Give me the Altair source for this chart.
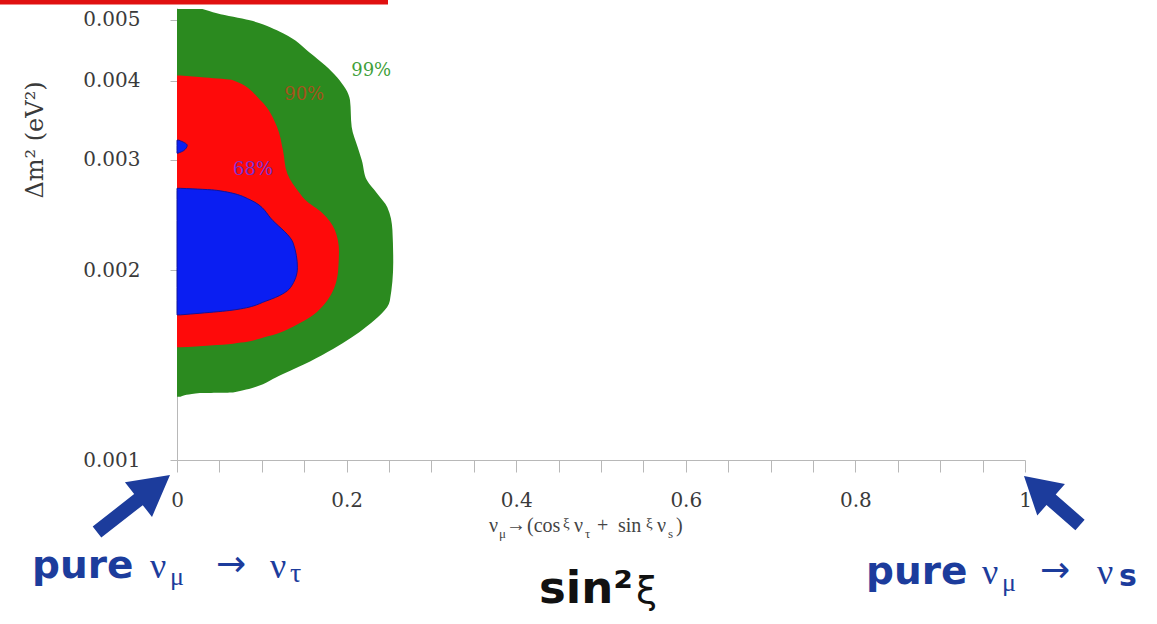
import altair as alt
import pandas as pd

# ---------------- data ----------------
Y_TICKS = [0.001, 0.002, 0.003, 0.004, 0.005]
X_TICKS = [0.0, 0.05, 0.1, 0.15, 0.2, 0.25, 0.3, 0.35, 0.4, 0.45, 0.5,
           0.55, 0.6, 0.65, 0.7, 0.75, 0.8, 0.85, 0.9, 0.95, 1.0]

# 99% C.L. region (right boundary): delta m^2 [eV^2] and sin^2 xi
C99_DM2 = [5.20e-3, 5.12e-3, 4.99e-3, 4.76e-3, 4.43e-3, 4.05e-3, 3.73e-3, 3.38e-3,
           3.14e-3, 2.99e-3, 2.78e-3, 2.65e-3, 2.52e-3, 2.32e-3, 2.06e-3, 1.79e-3,
           1.63e-3, 1.50e-3, 1.37e-3, 1.28e-3, 1.277e-3, 1.26e-3]
C99_S = [0.030, 0.047, 0.086, 0.125, 0.157, 0.189, 0.204, 0.206,
         0.213, 0.218, 0.224, 0.236, 0.248, 0.254, 0.255, 0.251,
         0.224, 0.184, 0.125, 0.066, 0.027, 0.004]

# 90% C.L. region
C90_DM2 = [4.08e-3, 4.05e-3, 4.01e-3, 3.73e-3, 3.38e-3, 3.10e-3, 2.85e-3, 2.65e-3,
           2.59e-3, 2.47e-3, 2.32e-3, 2.15e-3, 2.00e-3, 1.79e-3, 1.65e-3, 1.57e-3,
           1.53e-3, 1.51e-3]
C90_S = [0.004, 0.033, 0.066, 0.098, 0.118, 0.125, 0.130, 0.145,
         0.151, 0.171, 0.186, 0.191, 0.190, 0.177, 0.145, 0.106,
         0.066, 0.004]

# 68% C.L. region (main island)
C68_DM2 = [2.70e-3, 2.68e-3, 2.59e-3, 2.40e-3, 2.21e-3, 2.02e-3, 1.88e-3, 1.79e-3,
           1.73e-3, 1.71e-3, 1.70e-3]
C68_S = [0.004, 0.047, 0.086, 0.113, 0.137, 0.142, 0.134, 0.106,
         0.066, 0.027, 0.004]

# 68% C.L. small island
C68B_DM2 = [3.22e-3, 3.16e-3, 3.10e-3, 3.07e-3]
C68B_S = [0.002, 0.012, 0.008, 0.001]

# contour labels
CL_TEXT = ["99%", "90%", "68%"]
CL_S = [0.229, 0.150, 0.0896]
CL_DM2 = [4.145e-3, 3.80e-3, 2.89e-3]

# ---------------- layout constants ----------------
OX, OY = 177, 8          # plot origin in page pixels
W, H = 848, 452
BLUE_TXT = "#1c3c9c"
AX_GRAY = "#b8b8b8"
SERIF = "DejaVu Serif"
TIMES = "Liberation Serif"

xs = alt.Scale(domain=[0, 1], nice=False)
ys = alt.Scale(type="log", domain=[0.001, 0.00522], nice=False)

x_axis = alt.Axis(values=X_TICKS, title="", grid=False,
                  labelExpr="(round(datum.value*100) % 20 == 0) ? format(datum.value, '~g') : ''",
                  labelFlush=False, labelOverlap=False, tickSize=12, labelPadding=18,
                  domainColor=AX_GRAY, tickColor=AX_GRAY, labelFont=SERIF,
                  labelFontSize=20, labelColor="#3a3a3a")
y_axis = alt.Axis(values=Y_TICKS, format=".3f", title="", grid=False,
                  tickSize=7, labelPadding=30, domainColor=AX_GRAY, tickColor=AX_GRAY,
                  labelFont=SERIF, labelFontSize=20, labelColor="#3a3a3a")


def region(dm2, s, color, stroke=None):
    df = pd.DataFrame({"dm2": dm2, "s": s}).sort_values("dm2")
    kw = dict(orient="horizontal", color=color, opacity=1, interpolate="monotone")
    if stroke:
        kw.update(stroke=stroke, strokeWidth=1)
    return alt.Chart(df).mark_area(**kw).encode(
        y=alt.Y("dm2:Q", scale=ys, axis=y_axis),
        x=alt.X("s:Q", scale=xs, axis=x_axis),
    )


green = region(C99_DM2, C99_S, "#2b8a1f")
red = region(C90_DM2, C90_S, "#fe0a0a")
blue = region(C68_DM2, C68_S, "#0a1ef2", "#10149a")
blob = region(C68B_DM2, C68B_S, "#0a1ef2", "#10149a")

cl_df = pd.DataFrame({"s": CL_S, "dm2": CL_DM2, "t": CL_TEXT})
cl_colors = ["#3f9f3a", "#a6521c", "#7b2fd0"]
cl_labels = alt.Chart(cl_df).mark_text(font=SERIF, fontSize=18).encode(
    x=alt.X("s:Q", scale=xs),
    y=alt.Y("dm2:Q", scale=ys),
    text="t:N",
    color=alt.Color("t:N", scale=alt.Scale(domain=CL_TEXT, range=cl_colors), legend=None),
)

dummy = pd.DataFrame({"k": [0]})


def txt(s, x, y, size, font="DejaVu Sans", weight="normal", color=BLUE_TXT,
        align="left", baseline="alphabetic", angle=0):
    kw = dict(text=s, fontSize=size, font=font, fontWeight=weight, color=color,
              align=align, baseline=baseline)
    if angle:
        kw["angle"] = angle
    return alt.Chart(dummy).mark_text(**kw).encode(
        x=alt.value(x - OX), y=alt.value(y - OY))


def arrow(tail, tip, head_len, head_w, shaft_w):
    import math
    dx, dy = tip[0] - tail[0], tip[1] - tail[1]
    L = math.hypot(dx, dy)
    r = L / 2
    hx = 1 - head_len / r
    hw = head_w / 2 / r
    sw = shaft_w / 2 / r
    path = (f"M -1 {-sw:.3f} L {hx:.3f} {-sw:.3f} L {hx:.3f} {-hw:.3f} L 1 0 "
            f"L {hx:.3f} {hw:.3f} L {hx:.3f} {sw:.3f} L -1 {sw:.3f} Z")
    ang = math.degrees(math.atan2(dy, dx)) % 360
    cx, cy = (tail[0] + tip[0]) / 2, (tail[1] + tip[1]) / 2
    return alt.Chart(dummy).mark_point(shape=path, size=L * L, angle=ang, filled=True,
                                       color=BLUE_TXT, opacity=1, strokeWidth=0).encode(
        x=alt.value(cx - OX), y=alt.value(cy - OY))


top_bar = alt.Chart(dummy).mark_rule(color="#e01010", strokeWidth=5).encode(
    x=alt.value(-OX), x2=alt.value(388 - OX), y=alt.value(2 - OY))

TC = "#444444"
TY = 532
notes = [
    # y axis title
    txt("Δm² (eV²)", 36, 140, 24, font=SERIF, color="#3a3a3a", align="center",
        baseline="middle", angle=270),
    # x axis title pieces
    txt("ν", 489, TY, 20, font=TIMES, color=TC),
    txt("μ", 499, TY + 6, 13, font=TIMES, color=TC),
    txt("→", 506, TY - 1, 20, font=TIMES, color=TC),
    txt("(cos", 527, TY, 20, font=TIMES, color=TC),
    txt("ξ", 563, TY - 4, 15, font=TIMES, color=TC),
    txt("ν", 574, TY, 20, font=TIMES, color=TC),
    txt("τ", 585, TY + 6, 13, font=TIMES, color=TC),
    txt("+", 597, TY, 20, font=TIMES, color=TC),
    txt("sin", 618, TY, 20, font=TIMES, color=TC),
    txt("ξ", 646, TY - 4, 15, font=TIMES, color=TC),
    txt("ν", 657, TY, 20, font=TIMES, color=TC),
    txt("s", 668, TY + 6, 13, font=TIMES, color=TC),
    txt(")", 676, TY, 20, font=TIMES, color=TC),
    # left annotation
    txt("pure", 32, 578, 39, weight="bold"),
    txt("ν", 150, 578, 36, font=TIMES),
    txt("μ", 170, 585, 26, font=TIMES),
    txt("→", 216, 576, 36),
    txt("ν", 270, 578, 36, font=TIMES),
    txt("τ", 290, 582, 28, font=TIMES),
    # right annotation
    txt("pure", 866, 584, 39, weight="bold"),
    txt("ν", 982, 584, 36, font=TIMES),
    txt("μ", 1002, 591, 26, font=TIMES),
    txt("→", 1040, 582, 36),
    txt("ν", 1097, 584, 36, font=TIMES),
    txt("s", 1119, 586, 30, weight="bold"),
    # sin^2 xi
    txt("sin²", 539, 603, 45, weight="bold", color="#111111"),
    txt("ξ", 636, 603, 38, color="#111111"),
]

arrows = [
    arrow((97, 532), (170, 475), 40, 44, 14),
    arrow((1080, 525), (1024, 476), 36, 42, 14),
]

chart = alt.layer(green, red, blue, blob, cl_labels, top_bar, *notes, *arrows).properties(
    width=W, height=H,
    autosize=alt.AutoSizeParams(type="none"),
    padding={"left": OX, "top": OY, "right": 1157 - OX - W, "bottom": 624 - OY - H},
).configure(background="white", view=alt.ViewConfig(strokeWidth=0))

chart.save("out.html", embed_options={"renderer": "svg", "actions": False})
